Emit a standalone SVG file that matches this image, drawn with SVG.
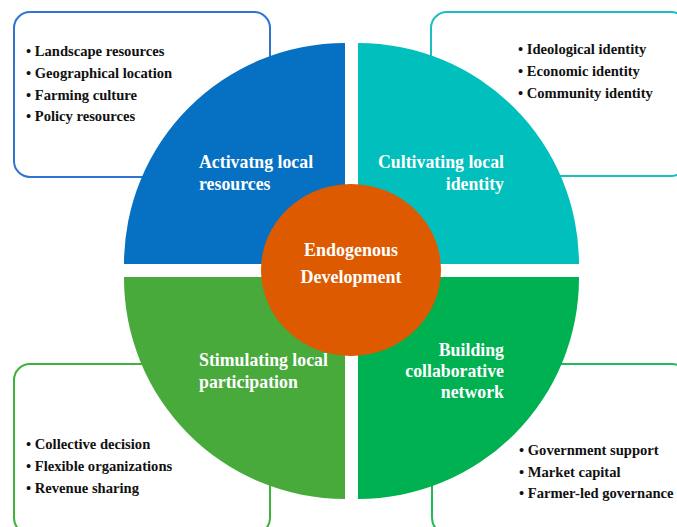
<svg xmlns="http://www.w3.org/2000/svg" width="677" height="527" viewBox="0 0 677 527">
<style>
.box{fill:#fff;stroke-width:2}
.li{font-family:"Liberation Serif",serif;font-weight:bold;font-size:14.6px;fill:#111}
.q{font-family:"Liberation Serif",serif;font-weight:bold;font-size:17.8px;fill:#fff}
.c{font-family:"Liberation Serif",serif;font-weight:bold;font-size:18px;fill:#fff;text-anchor:middle}
.r{text-anchor:end}
</style>
<rect width="677" height="527" fill="#fff"/>
<g id="box-resources">
<rect class="box" x="14" y="12" width="256" height="165" rx="16" stroke="#2E74D0"/>
<text class="li"><tspan x="26" y="56">• Landscape resources</tspan><tspan x="26" y="78">• Geographical location</tspan><tspan x="26" y="100">• Farming culture</tspan><tspan x="26" y="121">• Policy resources</tspan></text>
</g>
<g id="box-identity">
<rect class="box" x="431" y="12" width="256" height="164" rx="16" stroke="#1CBFBF"/>
<text class="li"><tspan x="518" y="54">• Ideological identity</tspan><tspan x="518" y="76">• Economic identity</tspan><tspan x="518" y="98">• Community identity</tspan></text>
</g>
<g id="box-participation">
<rect class="box" x="14" y="364" width="256" height="170" rx="16" stroke="#3DB23A"/>
<text class="li"><tspan x="26" y="449">• Collective decision</tspan><tspan x="26" y="471">• Flexible organizations</tspan><tspan x="26" y="493">• Revenue sharing</tspan></text>
</g>
<g id="box-network">
<rect class="box" x="432" y="364" width="256" height="170" rx="16" stroke="#1DBA55"/>
<text class="li"><tspan x="519" y="455">• Government support</tspan><tspan x="519" y="477">• Market capital</tspan><tspan x="519" y="498">• Farmer-led governance</tspan></text>
</g>
<g id="q-resources">
<path d="M345 264 L124 264 A221 221 0 0 1 345 43 Z" fill="#0670C2"/>
<text class="q"><tspan x="199" y="168">Activatng local</tspan><tspan x="199" y="190">resources</tspan></text>
</g>
<g id="q-identity">
<path d="M358 264 L358 43 A221 221 0 0 1 579 264 Z" fill="#00BFBC"/>
<text class="q r"><tspan x="504" y="168">Cultivating local</tspan><tspan x="504" y="190">identity</tspan></text>
</g>
<g id="q-participation">
<path d="M345 277 L345 499 A221 221 0 0 1 124 277 Z" fill="#47AA3B"/>
<text class="q"><tspan x="199" y="366">Stimulating local</tspan><tspan x="199" y="388">participation</tspan></text>
</g>
<g id="q-network">
<path d="M358 277 L579 277 A221 221 0 0 1 358 499 Z" fill="#00B151"/>
<text class="q r"><tspan x="504" y="356">Building</tspan><tspan x="504" y="377">collaborative</tspan><tspan x="504" y="398">network</tspan></text>
</g>
<g id="center">
<ellipse cx="351" cy="270" rx="90" ry="86" fill="#DE5A00"/>
<text class="c"><tspan x="351" y="256">Endogenous</tspan><tspan x="351" y="283">Development</tspan></text>
</g>
</svg>
